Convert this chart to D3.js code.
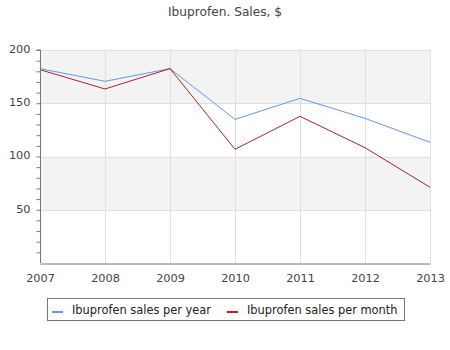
<!DOCTYPE html>
<html><head><meta charset="utf-8">
<script src="https://cdn.jsdelivr.net/npm/d3@7"></script>
<style>body{margin:0;background:#fff}svg{display:block;font-family:"DejaVu Sans",sans-serif}</style>
</head><body><svg id="c" width="450" height="350"></svg>
<script>
const years = [2007, 2008, 2009, 2010, 2011, 2012, 2013];
const salesPerYear = [182.5, 170.6, 182.5, 134.9, 154.6, 135.8, 113.3];
const salesPerMonth = [181.5, 163.4, 182.5, 106.8, 137.7, 108.3, 71.1];
const yTicks = [50, 100, 150, 200];
const seriesNames = ["Ibuprofen sales per year", "Ibuprofen sales per month"];
const colors = ["#6495ed", "#b22222"];
const title = "Ibuprofen. Sales, $";

const svg = d3.select("#c");
const x = d3.scaleLinear().domain([2007, 2013]).range([40, 430]);
const y = d3.scaleLinear().domain([0, 200]).range([263, 50]);

// bands
const bands = [[150, 200], [50, 100]];
svg.append("g").selectAll("rect").data(bands).join("rect")
  .attr("x", x(2007)).attr("width", x(2013) - x(2007))
  .attr("y", d => y(d[1])).attr("height", d => y(d[0]) - y(d[1]))
  .attr("fill", "#f3f3f3");

// grid
const grid = svg.append("g").attr("stroke", "#e0e0e0").attr("stroke-width", 1);
grid.selectAll(".h").data(yTicks).join("line")
  .attr("x1", x(2007)).attr("x2", x(2013))
  .attr("y1", d => Math.round(y(d)) + 0.5).attr("y2", d => Math.round(y(d)) + 0.5);
grid.selectAll(".v").data(years.slice(1)).join("line")
  .attr("x1", d => Math.round(x(d)) + 0.5).attr("x2", d => Math.round(x(d)) + 0.5)
  .attr("y1", y(200)).attr("y2", y(0));

// lines
const line = d3.line().x((d, i) => x(years[i])).y(d => y(d));
[salesPerYear, salesPerMonth].forEach((s, k) => {
  svg.append("path").datum(s).attr("d", line)
    .attr("fill", "none").attr("stroke", colors[k]).attr("stroke-width", 1);
});

// axes
const yAxis = d3.axisLeft(y).tickValues(d3.range(10, 201, 10)).tickSize(4)
  .tickFormat(d => yTicks.includes(d) ? d : "");
const gy = svg.append("g").attr("transform", "translate(40.5,0)").call(yAxis);
gy.select(".domain").attr("stroke", "#777").attr("d", `M-4,${y(200)}H0V${y(0)}`);
gy.selectAll(".tick line").attr("stroke", "#777");
gy.selectAll("text").attr("fill", "#444").attr("font-size", 11.3).attr("font-family", "DejaVu Sans").attr("x", -10).attr("dy", "0.2em");

const xAxis = d3.axisBottom(x).tickValues(years).tickFormat(d3.format("d")).tickSize(0);
const gx = svg.append("g").attr("transform", `translate(0,${Math.round(y(0)) + 0.5})`).call(xAxis);
gx.select(".domain").attr("stroke", "#777");
gx.selectAll("text").attr("fill", "#444").attr("font-size", 11.3).attr("font-family", "DejaVu Sans").attr("dy", "1.4em");

// title
svg.append("text").attr("x", 225).attr("y", 16).attr("text-anchor", "middle")
  .attr("fill", "#444").attr("font-size", 12.2).text(title);

// legend
svg.append("rect").attr("x", 47.5).attr("y", 298.5).attr("width", 357).attr("height", 22)
  .attr("fill", "#fff").attr("stroke", "#777");
const lx = [52, 227];
seriesNames.forEach((n, k) => {
  svg.append("line").attr("x1", lx[k]).attr("x2", lx[k] + 11).attr("y1", 312).attr("y2", 312)
    .attr("stroke", colors[k]).attr("stroke-width", 2);
  svg.append("text").attr("x", lx[k] + 20).attr("y", 314).attr("fill", "#222")
    .attr("font-size", 11.4).text(n);
});
</script></body></html>
